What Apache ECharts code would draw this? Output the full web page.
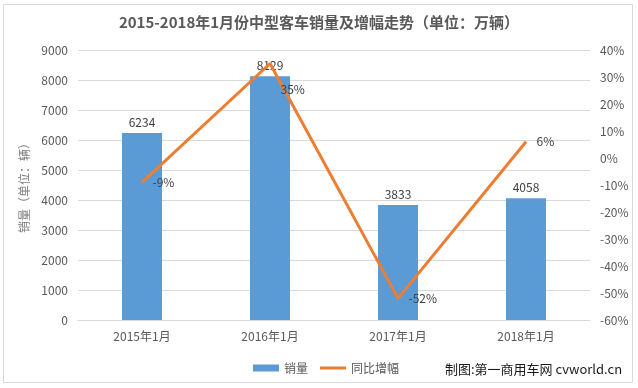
<!DOCTYPE html>
<html>
<head>
<meta charset="utf-8">
<script src="https://cdn.jsdelivr.net/npm/echarts@6/dist/echarts.min.js"></script>
<style>
html,body{margin:0;padding:0;background:#fff;}
#c{width:638px;height:388px;}
</style>
</head>
<body>
<div id="c"></div>
<script>
var categories = ['2015年1月', '2016年1月', '2017年1月', '2018年1月'];
var sales = [6234, 8129, 3833, 4058];
var growth = [-9, 35, -52, 6];
var leftTicks = {min: 0, max: 9000, interval: 1000};
var rightTicks = {min: -60, max: 40, interval: 10};

var font = '"Noto Sans CJK SC", "Noto Sans", sans-serif';
var chart = echarts.init(document.getElementById('c'));
chart.setOption({
  animation: false,
  textStyle: {fontFamily: font},
  title: {
    text: '2015-2018年1月份中型客车销量及增幅走势（单位：万辆）',
    left: 'center', top: 10,
    textStyle: {fontSize: 15, fontWeight: 'bold', color: '#595959', fontFamily: font}
  },
  graphic: [
    {type: 'rect', shape: {x: 3.5, y: 4.5, width: 629, height: 378}, style: {fill: 'none', stroke: '#D9D9D9', lineWidth: 1}, z: -10},
    {type: 'text', left: 445, top: 363, style: {text: '制图:第一商用车网 cvworld.cn', fill: '#1a1a1a', font: '13px ' + font}}
  ],
  legend: {
    left: 248, top: 357, itemGap: 12,
    itemWidth: 26, itemHeight: 7,
    textStyle: {fontSize: 12, color: '#595959'},
    data: [{name: '销量', icon: 'rect'}, {name: '同比增幅', icon: 'path://M0,0L26,0L26,3L0,3Z'}]
  },
  grid: {left: 78, right: 48, top: 50, bottom: 68},
  xAxis: {
    type: 'category', data: categories,
    axisLine: {lineStyle: {color: '#D9D9D9'}},
    axisTick: {show: false},
    axisLabel: {color: '#595959', fontSize: 12, margin: 10}
  },
  yAxis: [
    {
      type: 'value', min: leftTicks.min, max: leftTicks.max, interval: leftTicks.interval,
      name: '销量（单位：辆）', nameLocation: 'middle', nameRotate: 90, nameGap: 43,
      nameTextStyle: {color: '#7f7f7f', fontSize: 12},
      axisLine: {show: false}, axisTick: {show: false},
      axisLabel: {color: '#595959', fontSize: 12, margin: 10, formatter: function (v) { return String(v); }},
      splitLine: {lineStyle: {color: '#D9D9D9'}}
    },
    {
      type: 'value', min: rightTicks.min, max: rightTicks.max, interval: rightTicks.interval,
      axisLine: {show: false}, axisTick: {show: false},
      axisLabel: {color: '#595959', fontSize: 12, margin: 10, formatter: '{value}%'},
      splitLine: {show: false}
    }
  ],
  series: [
    {
      name: '销量', type: 'bar', data: sales, barWidth: 40,
      itemStyle: {color: '#5B9BD5'},
      label: {show: true, position: 'top', distance: 5, color: '#404040', fontSize: 12}
    },
    {
      name: '同比增幅', type: 'line', yAxisIndex: 1, symbol: 'circle', symbolSize: 1, showSymbol: true, z: 5,
      data: growth.map(function (v, i) {
        return i === 1 ? {value: v, label: {offset: [0, 26]}} : v;
      }),
      lineStyle: {color: '#ED7D31', width: 3},
      itemStyle: {color: '#ED7D31'},
      label: {show: true, position: 'right', distance: 10, color: '#404040', fontSize: 12, formatter: '{c}%'}
    }
  ]
});
</script>
</body>
</html>
